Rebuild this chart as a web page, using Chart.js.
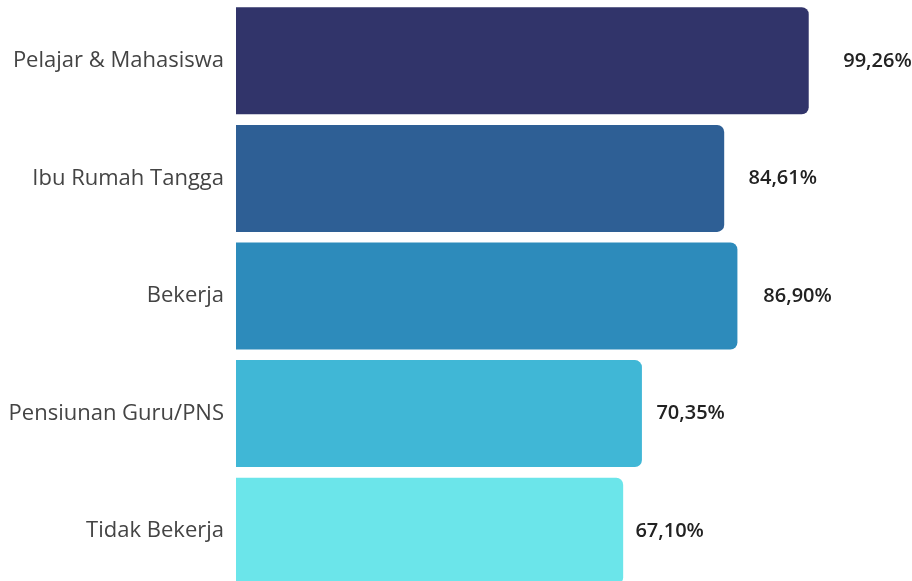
<!DOCTYPE html>
<html>
<head>
<meta charset="utf-8">
<script src="https://cdn.jsdelivr.net/npm/chart.js@4"></script>
<style>
    html, body { margin: 0; padding: 0; background: #fff; overflow: hidden; }
    #wrap { width: 912px; height: 590px; }
</style>
</head>
<body>
<div id="wrap"><canvas id="jobChart"></canvas></div>
<script>
    // Data
    const categories = ['Pelajar & Mahasiswa', 'Ibu Rumah Tangga', 'Bekerja', 'Pensiunan Guru/PNS', 'Tidak Bekerja'];
    const values = [99.26, 84.61, 86.90, 70.35, 67.10];
    const barColors = ['#31346a', '#2e5f95', '#2d8bbb', '#40b7d6', '#6be5ea'];

    // Value labels drawn to the right of each bar
    const valueLabels = {
        id: 'valueLabels',
        afterDatasetsDraw: function(chart) {
            const ctx = chart.ctx;
            const xScale = chart.scales.x;
            const meta = chart.getDatasetMeta(0);
            ctx.save();
            ctx.font = '600 20px "Open Sans"';
            ctx.fillStyle = '#222';
            ctx.textAlign = 'center';
            ctx.textBaseline = 'middle';
            meta.data.forEach(function(bar, i) {
                const v = values[i];
                const x = xScale.getPixelForValue(v * 1.12);
                ctx.fillText(v.toFixed(2).replace('.', ',') + '%', x, bar.y);
            });
            ctx.restore();
        }
    };

    new Chart(document.getElementById('jobChart'), {
        type: 'bar',
        data: {
            labels: categories,
            datasets: [{
                data: values,
                backgroundColor: barColors,
                borderRadius: 7,
                borderSkipped: 'start',
                barPercentage: 0.91,
                categoryPercentage: 1
            }]
        },
        options: {
            indexAxis: 'y',
            responsive: true,
            maintainAspectRatio: false,
            animation: false,
            layout: { padding: { top: 2, right: 99, bottom: 0, left: 0 } },
            scales: {
                x: {
                    display: false,
                    min: 0,
                    max: 100
                },
                y: {
                    grid: { display: false, drawTicks: false },
                    border: { display: false },
                    ticks: {
                        color: '#444',
                        padding: 12,
                        font: { family: 'Open Sans', size: 22 }
                    },
                    afterFit: function(scale) {
                        scale.width = 236;
                        // no extra room above/below for the tick labels
                        scale.paddingTop = 0;
                        scale.paddingBottom = 0;
                    }
                }
            },
            plugins: {
                legend: { display: false },
                tooltip: { enabled: false }
            }
        },
        plugins: [valueLabels]
    });
</script>
</body>
</html>
